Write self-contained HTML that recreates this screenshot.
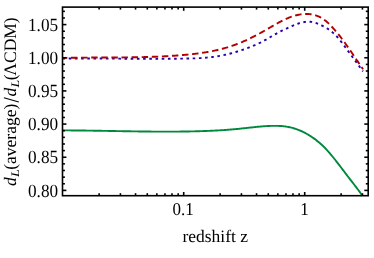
<!DOCTYPE html>
<html><head><meta charset="utf-8"><title>plot</title>
<style>
html,body{margin:0;padding:0;background:#fff;}
body{width:374px;height:258px;overflow:hidden;}
svg{display:block;}
text{font-family:"Liberation Serif",serif;font-size:17.5px;fill:#000;text-rendering:geometricPrecision;}
</style></head><body>
<svg width="374" height="258" viewBox="0 0 374 258">
<rect width="374" height="258" fill="#fff"/>
<defs><filter id="bl" x="-5%" y="-5%" width="110%" height="110%"><feGaussianBlur stdDeviation="0.35"/></filter><clipPath id="c"><rect x="62.5" y="7.1" width="305.7" height="189.5"/></clipPath></defs>
<g fill="none" stroke-width="1.9" clip-path="url(#c)" filter="url(#bl)">
<path d="M62.50,58.51 L63.50,58.51 L64.50,58.50 L65.50,58.50 L66.50,58.50 L67.50,58.49 L68.50,58.49 L69.50,58.49 L70.50,58.49 L71.50,58.49 L72.50,58.48 L73.50,58.48 L74.50,58.48 L75.50,58.48 L76.50,58.48 L77.50,58.48 L78.50,58.49 L79.50,58.49 L80.50,58.49 L81.50,58.49 L82.50,58.49 L83.50,58.49 L84.50,58.50 L85.50,58.50 L86.50,58.50 L87.50,58.50 L88.50,58.51 L89.50,58.51 L90.50,58.52 L91.50,58.52 L92.50,58.52 L93.50,58.53 L94.50,58.53 L95.50,58.54 L96.50,58.54 L97.50,58.55 L98.50,58.55 L99.50,58.56 L100.50,58.56 L101.50,58.57 L102.50,58.57 L103.50,58.58 L104.50,58.58 L105.50,58.59 L106.50,58.60 L107.50,58.60 L108.50,58.61 L109.50,58.61 L110.50,58.62 L111.50,58.63 L112.50,58.63 L113.50,58.64 L114.50,58.64 L115.50,58.65 L116.50,58.66 L117.50,58.66 L118.50,58.67 L119.50,58.67 L120.50,58.68 L121.50,58.69 L122.50,58.69 L123.50,58.70 L124.50,58.70 L125.50,58.71 L126.50,58.71 L127.50,58.72 L128.50,58.72 L129.50,58.73 L130.50,58.73 L131.50,58.74 L132.50,58.74 L133.50,58.75 L134.50,58.75 L135.50,58.76 L136.50,58.76 L137.50,58.77 L138.50,58.77 L139.50,58.77 L140.50,58.78 L141.50,58.78 L142.50,58.78 L143.50,58.79 L144.50,58.79 L145.50,58.79 L146.50,58.79 L147.50,58.79 L148.50,58.80 L149.50,58.80 L150.50,58.80 L151.50,58.80 L152.50,58.80 L153.50,58.80 L154.50,58.80 L155.50,58.80 L156.50,58.80 L157.50,58.80 L158.50,58.79 L159.50,58.79 L160.50,58.79 L161.50,58.79 L162.50,58.79 L163.50,58.78 L164.50,58.78 L165.50,58.77 L166.50,58.77 L167.50,58.76 L168.50,58.76 L169.50,58.75 L170.50,58.75 L171.50,58.74 L172.50,58.73 L173.50,58.72 L174.50,58.72 L175.50,58.71 L176.50,58.70 L177.50,58.69 L178.50,58.68 L179.50,58.67 L180.50,58.66 L181.50,58.65 L182.50,58.63 L183.50,58.62 L184.50,58.61 L185.50,58.59 L186.50,58.57 L187.50,58.56 L188.50,58.54 L189.50,58.51 L190.50,58.49 L191.50,58.46 L192.50,58.43 L193.50,58.40 L194.50,58.36 L195.50,58.33 L196.50,58.28 L197.50,58.24 L198.50,58.19 L199.50,58.14 L200.50,58.08 L201.50,58.02 L202.50,57.95 L203.50,57.88 L204.50,57.80 L205.50,57.72 L206.50,57.64 L207.50,57.54 L208.50,57.45 L209.50,57.34 L210.50,57.23 L211.50,57.12 L212.50,56.99 L213.50,56.86 L214.50,56.73 L215.50,56.58 L216.50,56.43 L217.50,56.27 L218.50,56.11 L219.50,55.93 L220.50,55.75 L221.50,55.56 L222.50,55.36 L223.50,55.15 L224.50,54.94 L225.50,54.71 L226.50,54.48 L227.50,54.25 L228.50,54.00 L229.50,53.75 L230.50,53.49 L231.50,53.22 L232.50,52.94 L233.50,52.66 L234.50,52.38 L235.50,52.08 L236.50,51.78 L237.50,51.47 L238.50,51.16 L239.50,50.84 L240.50,50.51 L241.50,50.18 L242.50,49.85 L243.50,49.50 L244.50,49.15 L245.50,48.80 L246.50,48.44 L247.50,48.07 L248.50,47.70 L249.50,47.31 L250.50,46.92 L251.50,46.52 L252.50,46.12 L253.50,45.70 L254.50,45.28 L255.50,44.84 L256.50,44.40 L257.50,43.94 L258.50,43.48 L259.50,43.00 L260.50,42.52 L261.50,42.02 L262.50,41.51 L263.50,40.99 L264.50,40.46 L265.50,39.91 L266.50,39.35 L267.50,38.78 L268.50,38.21 L269.50,37.62 L270.50,37.03 L271.50,36.44 L272.50,35.85 L273.50,35.27 L274.50,34.69 L275.50,34.12 L276.50,33.56 L277.50,33.02 L278.50,32.49 L279.50,31.97 L280.50,31.46 L281.50,30.96 L282.50,30.47 L283.50,29.99 L284.50,29.51 L285.50,29.04 L286.50,28.57 L287.50,28.10 L288.50,27.64 L289.50,27.18 L290.50,26.72 L291.50,26.28 L292.50,25.84 L293.50,25.41 L294.50,25.00 L295.50,24.60 L296.50,24.22 L297.50,23.86 L298.50,23.52 L299.50,23.20 L300.50,22.91 L301.50,22.65 L302.50,22.41 L303.50,22.21 L304.50,22.04 L305.50,21.90 L306.50,21.80 L307.50,21.74 L308.50,21.72 L309.50,21.74 L310.50,21.81 L311.50,21.93 L312.50,22.09 L313.50,22.30 L314.50,22.55 L315.50,22.84 L316.50,23.16 L317.50,23.53 L318.50,23.92 L319.50,24.35 L320.50,24.80 L321.50,25.28 L322.50,25.78 L323.50,26.30 L324.50,26.84 L325.50,27.41 L326.50,28.00 L327.50,28.63 L328.50,29.29 L329.50,29.99 L330.50,30.73 L331.50,31.52 L332.50,32.35 L333.50,33.23 L334.50,34.16 L335.50,35.15 L336.50,36.18 L337.50,37.26 L338.50,38.39 L339.50,39.57 L340.50,40.79 L341.50,42.05 L342.50,43.36 L343.50,44.70 L344.50,46.07 L345.50,47.45 L346.50,48.85 L347.50,50.23 L348.50,51.61 L349.50,52.97 L350.50,54.30 L351.50,55.63 L352.50,56.97 L353.50,58.33 L354.50,59.72 L355.50,61.12 L356.50,62.52 L357.50,63.91 L358.50,65.28 L359.50,66.65 L360.50,68.00 L361.50,69.35 L362.50,70.71 L363.00,71.38" stroke="#2800a8" stroke-dasharray="2.6 3.6" stroke-dashoffset="0"/>
<path d="M62.50,57.92 L63.50,57.89 L64.50,57.87 L65.50,57.85 L66.50,57.83 L67.50,57.81 L68.50,57.80 L69.50,57.78 L70.50,57.76 L71.50,57.75 L72.50,57.73 L73.50,57.72 L74.50,57.71 L75.50,57.70 L76.50,57.68 L77.50,57.67 L78.50,57.66 L79.50,57.65 L80.50,57.64 L81.50,57.64 L82.50,57.63 L83.50,57.62 L84.50,57.61 L85.50,57.61 L86.50,57.60 L87.50,57.59 L88.50,57.59 L89.50,57.58 L90.50,57.58 L91.50,57.57 L92.50,57.57 L93.50,57.56 L94.50,57.56 L95.50,57.56 L96.50,57.55 L97.50,57.55 L98.50,57.54 L99.50,57.54 L100.50,57.54 L101.50,57.53 L102.50,57.53 L103.50,57.53 L104.50,57.52 L105.50,57.52 L106.50,57.52 L107.50,57.51 L108.50,57.51 L109.50,57.51 L110.50,57.50 L111.50,57.50 L112.50,57.49 L113.50,57.49 L114.50,57.48 L115.50,57.48 L116.50,57.47 L117.50,57.46 L118.50,57.46 L119.50,57.45 L120.50,57.44 L121.50,57.44 L122.50,57.43 L123.50,57.42 L124.50,57.41 L125.50,57.40 L126.50,57.39 L127.50,57.38 L128.50,57.36 L129.50,57.35 L130.50,57.34 L131.50,57.32 L132.50,57.31 L133.50,57.29 L134.50,57.28 L135.50,57.26 L136.50,57.24 L137.50,57.22 L138.50,57.20 L139.50,57.18 L140.50,57.16 L141.50,57.14 L142.50,57.11 L143.50,57.09 L144.50,57.06 L145.50,57.04 L146.50,57.01 L147.50,56.98 L148.50,56.95 L149.50,56.92 L150.50,56.88 L151.50,56.85 L152.50,56.82 L153.50,56.78 L154.50,56.74 L155.50,56.70 L156.50,56.66 L157.50,56.62 L158.50,56.58 L159.50,56.53 L160.50,56.49 L161.50,56.44 L162.50,56.39 L163.50,56.34 L164.50,56.29 L165.50,56.23 L166.50,56.18 L167.50,56.12 L168.50,56.06 L169.50,56.00 L170.50,55.94 L171.50,55.88 L172.50,55.81 L173.50,55.75 L174.50,55.68 L175.50,55.61 L176.50,55.53 L177.50,55.46 L178.50,55.38 L179.50,55.30 L180.50,55.22 L181.50,55.14 L182.50,55.06 L183.50,54.97 L184.50,54.88 L185.50,54.79 L186.50,54.70 L187.50,54.60 L188.50,54.51 L189.50,54.41 L190.50,54.30 L191.50,54.20 L192.50,54.09 L193.50,53.97 L194.50,53.86 L195.50,53.74 L196.50,53.62 L197.50,53.49 L198.50,53.36 L199.50,53.23 L200.50,53.09 L201.50,52.95 L202.50,52.80 L203.50,52.65 L204.50,52.49 L205.50,52.33 L206.50,52.17 L207.50,51.99 L208.50,51.82 L209.50,51.64 L210.50,51.45 L211.50,51.26 L212.50,51.06 L213.50,50.86 L214.50,50.65 L215.50,50.43 L216.50,50.21 L217.50,49.98 L218.50,49.75 L219.50,49.51 L220.50,49.26 L221.50,49.00 L222.50,48.74 L223.50,48.47 L224.50,48.20 L225.50,47.91 L226.50,47.62 L227.50,47.32 L228.50,47.01 L229.50,46.70 L230.50,46.38 L231.50,46.05 L232.50,45.71 L233.50,45.36 L234.50,45.00 L235.50,44.64 L236.50,44.26 L237.50,43.88 L238.50,43.49 L239.50,43.09 L240.50,42.69 L241.50,42.27 L242.50,41.85 L243.50,41.42 L244.50,40.98 L245.50,40.54 L246.50,40.08 L247.50,39.62 L248.50,39.15 L249.50,38.68 L250.50,38.19 L251.50,37.70 L252.50,37.21 L253.50,36.70 L254.50,36.19 L255.50,35.67 L256.50,35.15 L257.50,34.62 L258.50,34.08 L259.50,33.53 L260.50,32.98 L261.50,32.43 L262.50,31.86 L263.50,31.29 L264.50,30.72 L265.50,30.14 L266.50,29.56 L267.50,28.98 L268.50,28.39 L269.50,27.81 L270.50,27.22 L271.50,26.64 L272.50,26.06 L273.50,25.48 L274.50,24.91 L275.50,24.35 L276.50,23.78 L277.50,23.23 L278.50,22.68 L279.50,22.15 L280.50,21.62 L281.50,21.10 L282.50,20.60 L283.50,20.10 L284.50,19.62 L285.50,19.16 L286.50,18.71 L287.50,18.27 L288.50,17.86 L289.50,17.46 L290.50,17.07 L291.50,16.71 L292.50,16.37 L293.50,16.04 L294.50,15.74 L295.50,15.46 L296.50,15.20 L297.50,14.97 L298.50,14.75 L299.50,14.57 L300.50,14.40 L301.50,14.26 L302.50,14.15 L303.50,14.07 L304.50,14.01 L305.50,13.98 L306.50,13.98 L307.50,14.00 L308.50,14.06 L309.50,14.15 L310.50,14.27 L311.50,14.42 L312.50,14.61 L313.50,14.83 L314.50,15.08 L315.50,15.37 L316.50,15.69 L317.50,16.05 L318.50,16.45 L319.50,16.90 L320.50,17.39 L321.50,17.94 L322.50,18.54 L323.50,19.20 L324.50,19.92 L325.50,20.70 L326.50,21.54 L327.50,22.43 L328.50,23.37 L329.50,24.35 L330.50,25.37 L331.50,26.41 L332.50,27.48 L333.50,28.57 L334.50,29.69 L335.50,30.83 L336.50,32.00 L337.50,33.19 L338.50,34.42 L339.50,35.67 L340.50,36.95 L341.50,38.25 L342.50,39.58 L343.50,40.92 L344.50,42.29 L345.50,43.68 L346.50,45.08 L347.50,46.50 L348.50,47.93 L349.50,49.37 L350.50,50.83 L351.50,52.29 L352.50,53.76 L353.50,55.23 L354.50,56.71 L355.50,58.19 L356.50,59.67 L357.50,61.15 L358.50,62.62 L359.50,64.09 L360.50,65.55 L361.50,67.01 L362.50,68.46 L363.10,69.32" stroke="#b00000" stroke-dasharray="6.45 3.65" stroke-dashoffset="1.6"/>
<path d="M62.50,130.13 L63.50,130.13 L64.50,130.14 L65.50,130.14 L66.50,130.15 L67.50,130.15 L68.50,130.16 L69.50,130.16 L70.50,130.17 L71.50,130.18 L72.50,130.18 L73.50,130.19 L74.50,130.20 L75.50,130.21 L76.50,130.22 L77.50,130.23 L78.50,130.24 L79.50,130.25 L80.50,130.26 L81.50,130.27 L82.50,130.29 L83.50,130.30 L84.50,130.31 L85.50,130.32 L86.50,130.34 L87.50,130.35 L88.50,130.37 L89.50,130.38 L90.50,130.39 L91.50,130.41 L92.50,130.42 L93.50,130.44 L94.50,130.46 L95.50,130.47 L96.50,130.49 L97.50,130.50 L98.50,130.52 L99.50,130.54 L100.50,130.55 L101.50,130.57 L102.50,130.59 L103.50,130.60 L104.50,130.62 L105.50,130.64 L106.50,130.66 L107.50,130.67 L108.50,130.69 L109.50,130.71 L110.50,130.73 L111.50,130.75 L112.50,130.76 L113.50,130.78 L114.50,130.80 L115.50,130.82 L116.50,130.83 L117.50,130.85 L118.50,130.87 L119.50,130.89 L120.50,130.90 L121.50,130.92 L122.50,130.94 L123.50,130.96 L124.50,130.97 L125.50,130.99 L126.50,131.01 L127.50,131.02 L128.50,131.04 L129.50,131.05 L130.50,131.07 L131.50,131.09 L132.50,131.10 L133.50,131.12 L134.50,131.13 L135.50,131.15 L136.50,131.16 L137.50,131.17 L138.50,131.19 L139.50,131.20 L140.50,131.21 L141.50,131.23 L142.50,131.24 L143.50,131.25 L144.50,131.26 L145.50,131.27 L146.50,131.28 L147.50,131.29 L148.50,131.30 L149.50,131.31 L150.50,131.32 L151.50,131.33 L152.50,131.34 L153.50,131.35 L154.50,131.35 L155.50,131.36 L156.50,131.37 L157.50,131.37 L158.50,131.38 L159.50,131.38 L160.50,131.38 L161.50,131.39 L162.50,131.39 L163.50,131.39 L164.50,131.39 L165.50,131.39 L166.50,131.39 L167.50,131.39 L168.50,131.39 L169.50,131.39 L170.50,131.39 L171.50,131.38 L172.50,131.38 L173.50,131.37 L174.50,131.37 L175.50,131.36 L176.50,131.36 L177.50,131.35 L178.50,131.34 L179.50,131.33 L180.50,131.32 L181.50,131.31 L182.50,131.29 L183.50,131.28 L184.50,131.27 L185.50,131.25 L186.50,131.24 L187.50,131.22 L188.50,131.20 L189.50,131.18 L190.50,131.16 L191.50,131.14 L192.50,131.12 L193.50,131.10 L194.50,131.08 L195.50,131.05 L196.50,131.03 L197.50,131.00 L198.50,130.97 L199.50,130.94 L200.50,130.91 L201.50,130.88 L202.50,130.85 L203.50,130.82 L204.50,130.78 L205.50,130.75 L206.50,130.71 L207.50,130.67 L208.50,130.63 L209.50,130.59 L210.50,130.55 L211.50,130.51 L212.50,130.46 L213.50,130.41 L214.50,130.36 L215.50,130.31 L216.50,130.26 L217.50,130.21 L218.50,130.15 L219.50,130.09 L220.50,130.03 L221.50,129.97 L222.50,129.91 L223.50,129.84 L224.50,129.77 L225.50,129.70 L226.50,129.63 L227.50,129.56 L228.50,129.48 L229.50,129.40 L230.50,129.32 L231.50,129.24 L232.50,129.15 L233.50,129.06 L234.50,128.97 L235.50,128.88 L236.50,128.78 L237.50,128.68 L238.50,128.58 L239.50,128.48 L240.50,128.37 L241.50,128.27 L242.50,128.16 L243.50,128.05 L244.50,127.94 L245.50,127.83 L246.50,127.72 L247.50,127.61 L248.50,127.50 L249.50,127.39 L250.50,127.28 L251.50,127.18 L252.50,127.07 L253.50,126.96 L254.50,126.86 L255.50,126.76 L256.50,126.66 L257.50,126.57 L258.50,126.47 L259.50,126.38 L260.50,126.30 L261.50,126.21 L262.50,126.13 L263.50,126.06 L264.50,125.98 L265.50,125.92 L266.50,125.85 L267.50,125.80 L268.50,125.75 L269.50,125.70 L270.50,125.66 L271.50,125.63 L272.50,125.60 L273.50,125.58 L274.50,125.58 L275.50,125.58 L276.50,125.59 L277.50,125.61 L278.50,125.64 L279.50,125.69 L280.50,125.75 L281.50,125.82 L282.50,125.91 L283.50,126.01 L284.50,126.13 L285.50,126.26 L286.50,126.41 L287.50,126.57 L288.50,126.76 L289.50,126.96 L290.50,127.18 L291.50,127.42 L292.50,127.69 L293.50,127.97 L294.50,128.27 L295.50,128.59 L296.50,128.93 L297.50,129.29 L298.50,129.68 L299.50,130.08 L300.50,130.50 L301.50,130.94 L302.50,131.41 L303.50,131.89 L304.50,132.40 L305.50,132.93 L306.50,133.47 L307.50,134.04 L308.50,134.63 L309.50,135.24 L310.50,135.88 L311.50,136.53 L312.50,137.21 L313.50,137.90 L314.50,138.62 L315.50,139.36 L316.50,140.12 L317.50,140.91 L318.50,141.72 L319.50,142.56 L320.50,143.42 L321.50,144.32 L322.50,145.24 L323.50,146.20 L324.50,147.19 L325.50,148.22 L326.50,149.29 L327.50,150.38 L328.50,151.51 L329.50,152.67 L330.50,153.85 L331.50,155.05 L332.50,156.27 L333.50,157.51 L334.50,158.76 L335.50,160.02 L336.50,161.30 L337.50,162.58 L338.50,163.88 L339.50,165.18 L340.50,166.48 L341.50,167.80 L342.50,169.11 L343.50,170.43 L344.50,171.75 L345.50,173.07 L346.50,174.38 L347.50,175.70 L348.50,177.01 L349.50,178.31 L350.50,179.61 L351.50,180.90 L352.50,182.19 L353.50,183.48 L354.50,184.77 L355.50,186.07 L356.50,187.38 L357.50,188.70 L358.50,190.04 L359.50,191.41 L360.50,192.79 L361.50,194.21 L362.40,195.51" stroke="#00883e" transform="translate(0,0.25)"/>
</g>
<g stroke="#000" stroke-width="1.6" fill="none">
<path d="M62.50,190.40h3.9"/>
<path d="M368.20,190.40h-3.9"/>
<path d="M62.50,183.77h2.4"/>
<path d="M368.20,183.77h-2.4"/>
<path d="M62.50,177.14h2.4"/>
<path d="M368.20,177.14h-2.4"/>
<path d="M62.50,170.50h2.4"/>
<path d="M368.20,170.50h-2.4"/>
<path d="M62.50,163.87h2.4"/>
<path d="M368.20,163.87h-2.4"/>
<path d="M62.50,157.24h3.9"/>
<path d="M368.20,157.24h-3.9"/>
<path d="M62.50,150.61h2.4"/>
<path d="M368.20,150.61h-2.4"/>
<path d="M62.50,143.98h2.4"/>
<path d="M368.20,143.98h-2.4"/>
<path d="M62.50,137.34h2.4"/>
<path d="M368.20,137.34h-2.4"/>
<path d="M62.50,130.71h2.4"/>
<path d="M368.20,130.71h-2.4"/>
<path d="M62.50,124.08h3.9"/>
<path d="M368.20,124.08h-3.9"/>
<path d="M62.50,117.45h2.4"/>
<path d="M368.20,117.45h-2.4"/>
<path d="M62.50,110.82h2.4"/>
<path d="M368.20,110.82h-2.4"/>
<path d="M62.50,104.18h2.4"/>
<path d="M368.20,104.18h-2.4"/>
<path d="M62.50,97.55h2.4"/>
<path d="M368.20,97.55h-2.4"/>
<path d="M62.50,90.92h3.9"/>
<path d="M368.20,90.92h-3.9"/>
<path d="M62.50,84.29h2.4"/>
<path d="M368.20,84.29h-2.4"/>
<path d="M62.50,77.66h2.4"/>
<path d="M368.20,77.66h-2.4"/>
<path d="M62.50,71.02h2.4"/>
<path d="M368.20,71.02h-2.4"/>
<path d="M62.50,64.39h2.4"/>
<path d="M368.20,64.39h-2.4"/>
<path d="M62.50,57.76h3.9"/>
<path d="M368.20,57.76h-3.9"/>
<path d="M62.50,51.13h2.4"/>
<path d="M368.20,51.13h-2.4"/>
<path d="M62.50,44.50h2.4"/>
<path d="M368.20,44.50h-2.4"/>
<path d="M62.50,37.86h2.4"/>
<path d="M368.20,37.86h-2.4"/>
<path d="M62.50,31.23h2.4"/>
<path d="M368.20,31.23h-2.4"/>
<path d="M62.50,24.60h3.9"/>
<path d="M368.20,24.60h-3.9"/>
<path d="M62.50,17.97h2.4"/>
<path d="M368.20,17.97h-2.4"/>
<path d="M62.50,11.34h2.4"/>
<path d="M368.20,11.34h-2.4"/>
<path d="M99.12,195.70v-2.5"/>
<path d="M99.12,7.10v2.5"/>
<path d="M120.43,195.70v-2.5"/>
<path d="M120.43,7.10v2.5"/>
<path d="M135.55,195.70v-2.5"/>
<path d="M135.55,7.10v2.5"/>
<path d="M147.28,195.70v-2.5"/>
<path d="M147.28,7.10v2.5"/>
<path d="M156.86,195.70v-2.5"/>
<path d="M156.86,7.10v2.5"/>
<path d="M164.96,195.70v-2.5"/>
<path d="M164.96,7.10v2.5"/>
<path d="M171.97,195.70v-2.5"/>
<path d="M171.97,7.10v2.5"/>
<path d="M178.16,195.70v-2.5"/>
<path d="M178.16,7.10v2.5"/>
<path d="M183.70,195.70v-3.7"/>
<path d="M183.70,7.10v3.7"/>
<path d="M220.12,195.70v-2.5"/>
<path d="M220.12,7.10v2.5"/>
<path d="M241.43,195.70v-2.5"/>
<path d="M241.43,7.10v2.5"/>
<path d="M256.55,195.70v-2.5"/>
<path d="M256.55,7.10v2.5"/>
<path d="M268.28,195.70v-2.5"/>
<path d="M268.28,7.10v2.5"/>
<path d="M277.86,195.70v-2.5"/>
<path d="M277.86,7.10v2.5"/>
<path d="M285.96,195.70v-2.5"/>
<path d="M285.96,7.10v2.5"/>
<path d="M292.97,195.70v-2.5"/>
<path d="M292.97,7.10v2.5"/>
<path d="M299.16,195.70v-2.5"/>
<path d="M299.16,7.10v2.5"/>
<path d="M304.70,195.70v-3.7"/>
<path d="M304.70,7.10v3.7"/>
<path d="M341.12,195.70v-2.5"/>
<path d="M341.12,7.10v2.5"/>
<path d="M362.43,195.70v-2.5"/>
<path d="M362.43,7.10v2.5"/>
</g>
<rect x="62.5" y="7.1" width="305.7" height="188.6" fill="none" stroke="#000" stroke-width="1.6"/>
<g filter="url(#bl)">
<text transform="translate(58.10,30.80) scale(0.925,1)" style="font-size:18.6px" text-anchor="end">1.05</text>
<text transform="translate(58.10,63.96) scale(0.925,1)" style="font-size:18.6px" text-anchor="end">1.00</text>
<text transform="translate(58.10,97.12) scale(0.925,1)" style="font-size:18.6px" text-anchor="end">0.95</text>
<text transform="translate(58.10,130.28) scale(0.925,1)" style="font-size:18.6px" text-anchor="end">0.90</text>
<text transform="translate(58.10,163.44) scale(0.925,1)" style="font-size:18.6px" text-anchor="end">0.85</text>
<text transform="translate(58.10,196.60) scale(0.925,1)" style="font-size:18.6px" text-anchor="end">0.80</text>
<text transform="translate(183.10,215.30) scale(0.94,1)" style="font-size:18.1px" text-anchor="middle">0.1</text>
<text transform="translate(304.40,215.20) scale(0.94,1)" style="font-size:18.1px" text-anchor="middle">1</text>
<text x="215.2" y="242.0" text-anchor="middle">redshift z</text>
<g transform="translate(16.3,101.3) rotate(-90)"><text x="-84.6" y="0" style="font-style:italic">d</text><text transform="translate(-75.60,2.4) scale(1.18,1)" style="font-size:11.6px;font-style:italic">L</text><text x="-68.5" y="0">(average)</text><path d="M-0.8,2.5 L3.6,-12.4" stroke="#000" stroke-width="1.05" fill="none"/><text x="4.75" y="0" style="font-style:italic">d</text><text transform="translate(13.90,2.4) scale(1.18,1)" style="font-size:11.6px;font-style:italic">L</text><text x="21.0" y="0">(</text><text x="25.6" y="0">&#923;CDM)</text></g>
</g>
</svg>
</body></html>
